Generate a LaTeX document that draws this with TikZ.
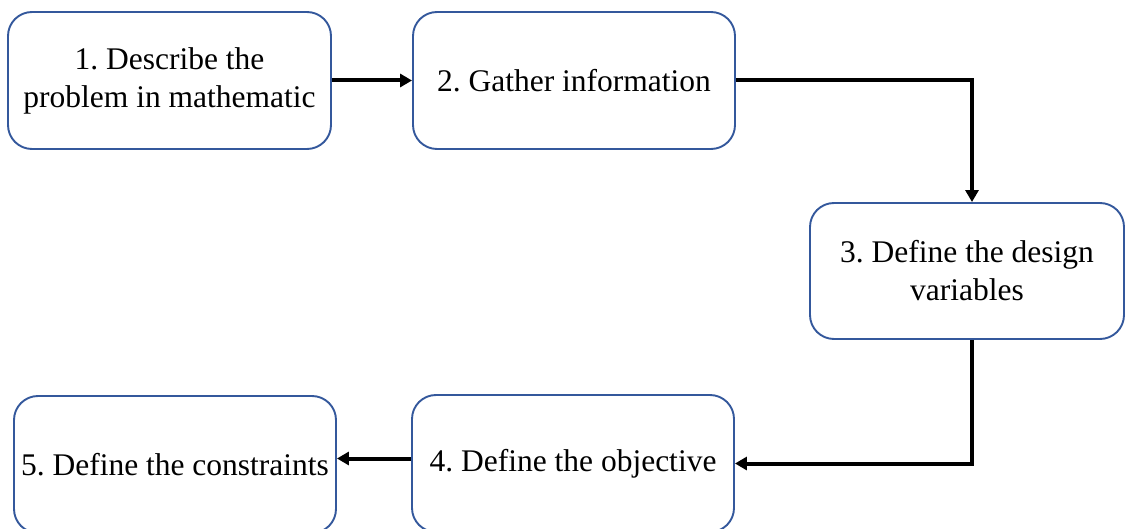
\documentclass[tikz,border=0pt]{standalone}
\usepackage{fontspec}
\setmainfont{Liberation Serif}
\usetikzlibrary{arrows.meta}
\definecolor{boxblue}{RGB}{52,88,156}
\frenchspacing
\tikzset{
  stepbox/.style={draw=boxblue, line width=1.9pt, rounded corners=24pt,
    rectangle, minimum width=322pt, minimum height=137pt, inner sep=0pt,
    align=center, font=\fontsize{31.5}{38}\selectfont, text=black},
  flow/.style={line width=4pt, -{Triangle[length=12pt,width=13pt]}}
}
\begin{document}
\begin{tikzpicture}[x=1pt, y=-1pt]
  \clip (0,0) rectangle (1125,529);
  \fill[white] (0,0) rectangle (1125,529);

  \node[stepbox, minimum width=323pt] (b1) at (169.5,80.5) {1. Describe the\\problem in mathematic};
  \node[stepbox] (b2) at (574,80.5) {2. Gather information};
  \node[stepbox, minimum width=314pt, minimum height=136pt] (b3) at (967,271) {3. Define the design\\variables};
  \node[stepbox] (b4) at (573,463.5) {4. Define the objective};
  \node[stepbox] (b5) at (175,464.5) {5. Define the constraints};

  \coordinate (c45) at ([yshift=5pt]b4.west);
  \draw[flow] (b1.east) -- (b2.west);
  \draw[flow] (b2.east) -| ([xshift=5pt]b3.north);
  \draw[flow] ([xshift=5pt]b3.south) |- (b4.east);
  \draw[flow] (c45) -- (c45 -| b5.east);
\end{tikzpicture}
\end{document}
